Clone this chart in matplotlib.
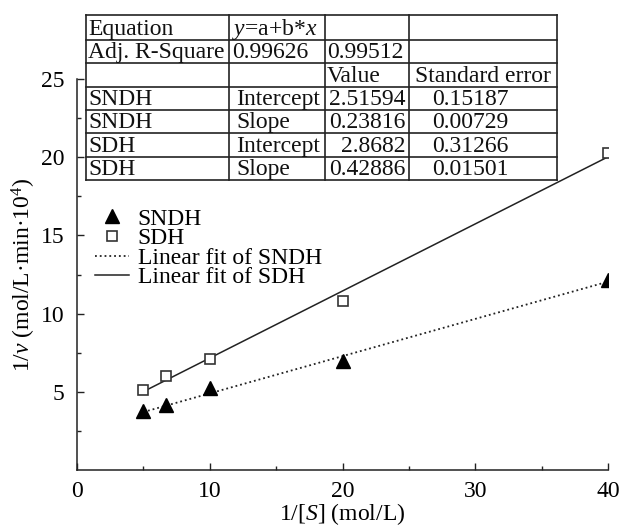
import matplotlib
matplotlib.use("Agg")
import matplotlib.pyplot as plt
import numpy as np

# ---- data ----
inv_S = [5, 6.67, 10, 20, 40]
sndh = [3.77, 4.15, 5.22, 6.98, 12.15]
sdh = [5.1, 6.0, 7.1, 10.8, 20.3]
sndh_fit = (2.51594, 0.23816)   # intercept, slope
sdh_fit = (2.8682, 0.42886)
fit_x = [5, 40]

table_rows = [
    ["Equation", r"$y$=a+b*$x$", "", ""],
    ["Adj. R-Square", "0.99626", "0.99512", ""],
    ["", "", "Value", "Standard error"],
    ["SNDH", "Intercept", "2.51594", "0.15187"],
    ["SNDH", "Slope", "0.23816", "0.00729"],
    ["SDH", "Intercept", "2.8682", "0.31266"],
    ["SDH", "Slope", "0.42886", "0.01501"],
]

plt.rcParams['font.family'] = ['Liberation Serif', 'DejaVu Serif']
plt.rcParams['mathtext.fontset'] = 'custom'
plt.rcParams['mathtext.rm'] = 'Liberation Serif'
plt.rcParams['mathtext.it'] = 'Liberation Serif:italic'
FS = 17

W, H = 622, 526
fig = plt.figure(figsize=(W/100, H/100), dpi=100)
L, R, B, T = 77, 608, 470, 79
ax = fig.add_axes([L/W, 1-B/H, (R-L)/W, (B-T)/H])

xf = np.array(fit_x, dtype=float)
ax.plot(inv_S, sndh, linestyle='none', marker='^', color='k', markersize=10, label='SNDH', zorder=3)
ax.plot(inv_S, sdh, linestyle='none', marker='s', mfc='white', mec='#333333', mew=1.2, markersize=7, label='SDH', zorder=3)
ax.plot(xf, sndh_fit[0] + sndh_fit[1]*xf, linestyle=':', color='#222222', lw=1.3, label='Linear fit of SNDH')
ax.plot(xf, sdh_fit[0] + sdh_fit[1]*xf, linestyle='-', color='#222222', lw=1.1, label='Linear fit of SDH')

ax.set_xlim(0, 40)
ax.set_ylim(0, 25)
ax.set_xticks([0, 10, 20, 30, 40])
ax.set_xticks([5, 15, 25, 35], minor=True)
ax.set_yticks([5, 10, 15, 20, 25])
ax.set_yticks([2.5, 7.5, 12.5, 17.5, 22.5], minor=True)
ax.tick_params(which='both', direction='in', width=1, color='#222222', labelsize=FS)
ax.tick_params(which='major', length=5)
ax.tick_params(which='minor', length=3)
ax.tick_params(axis='y', pad=9)
ax.tick_params(axis='x', pad=8)
for s in ['top', 'right']:
    ax.spines[s].set_visible(False)
for s in ['left', 'bottom']:
    ax.spines[s].set_linewidth(1.1)
    ax.spines[s].set_color('#222222')

ax.set_xlabel(r'1/[$S$] (mol/L)', fontsize=FS, labelpad=-1)
ax.set_ylabel(r'1/$v$ (mol/L·min·10$^{4}$)', fontsize=FS, labelpad=2)

leg = ax.legend(loc='upper left', bbox_to_anchor=(0.034, 0.67), frameon=False,
                fontsize=FS, borderpad=0, borderaxespad=0, handlelength=1.45,
                handletextpad=0.35, labelspacing=-0.08)

# ---- table overlay ----
tax = fig.add_axes([0, 0, 1, 1], zorder=5)
tax.set_xlim(0, W)
tax.set_ylim(H, 0)
tax.axis('off')
cols = [86, 229, 325, 409, 557]
rows = [15, 40, 63, 87, 110, 133, 157, 180]
tax.add_patch(plt.Rectangle((cols[0], rows[0]), cols[-1]-cols[0], rows[-1]-rows[0],
                            facecolor='white', edgecolor='none', zorder=0))
for yv in rows:
    tax.plot([cols[0], cols[-1]], [yv, yv], color='#222222', lw=1.2, solid_capstyle='projecting')
for xv in cols:
    tax.plot([xv, xv], [rows[0], rows[-1]], color='#222222', lw=1.2, solid_capstyle='projecting')

for i, row in enumerate(table_rows):
    base = rows[i+1] - 5
    for j, txt in enumerate(row):
        if not txt:
            continue
        ha = 'left'
        if j == 0:
            x = cols[0] + 2
        elif j == 1:
            x = cols[1] + (3 if i < 2 else 7)
        elif j == 2:
            if i >= 3:
                x, ha = cols[3] - 4, 'right'
            else:
                x = cols[2] + 2
        else:
            if i == 2:
                x = cols[3] + 6
            else:
                x = cols[3] + 23
        tax.text(x, base, txt, ha=ha, va='baseline', fontsize=FS, color='#111111')

fig.savefig('out.png', dpi=100)
